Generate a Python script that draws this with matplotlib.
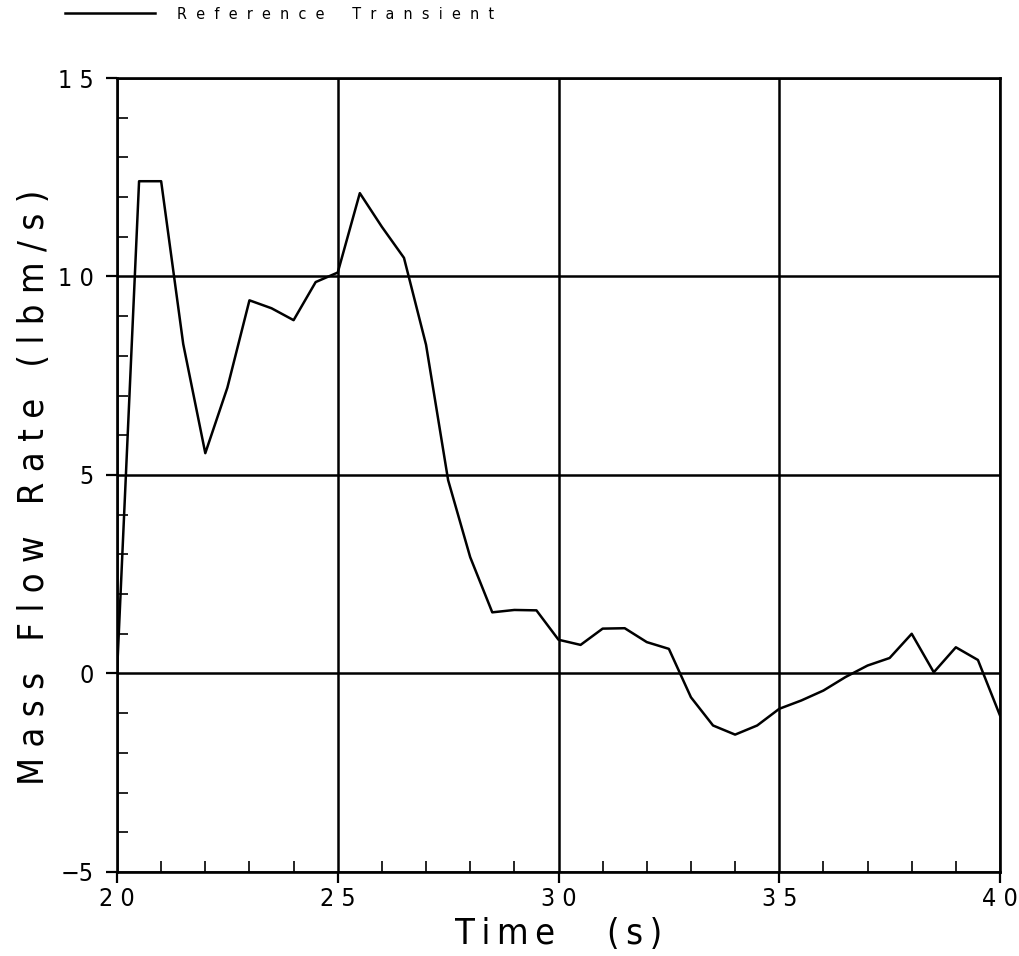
import numpy as np
import matplotlib
matplotlib.use("Agg")
import matplotlib.pyplot as plt
from matplotlib.ticker import MultipleLocator

# time (s) and mass flow rate (lbm/s)
time = np.arange(20.0, 40.01, 0.5)
flow = [0.0, 12.4, 12.4, 8.3, 5.55, 7.2, 9.4, 9.2, 8.9, 9.86,
        10.1, 12.1, 11.25, 10.47, 8.28, 4.87, 2.93, 1.54, 1.6, 1.59,
        0.85, 0.72, 1.13, 1.14, 0.79, 0.62, -0.6, -1.31, -1.54, -1.31,
        -0.89, -0.68, -0.43, -0.09, 0.2, 0.39, 1.0, 0.03, 0.66, 0.34,
        -1.06]

x_ticks = [20, 25, 30, 35, 40]
x_labels = ["2 0", "2 5", "3 0", "3 5", "4 0"]
y_ticks = [-5, 0, 5, 10, 15]
y_labels = ["\u22125", "0", "5", "1 0", "1 5"]


def spaced(s, gap=" ", word="    "):
    return word.join(gap.join(w) for w in s.split(" "))


plt.rcParams["font.family"] = ["DejaVu Sans"]
plt.rcParams["font.stretch"] = "condensed"

fig = plt.figure(figsize=(10.2, 9.56), dpi=100)
ax = fig.add_axes([0.1147, 0.0879, 0.8657, 0.8305])

ax.plot(time, flow, "-k", lw=1.8, label="Reference Transient", zorder=3)

ax.set_xlim(20, 40)
ax.set_ylim(-5, 15)
ax.set_xticks(x_ticks)
ax.set_xticklabels(x_labels)
ax.set_yticks(y_ticks)
ax.set_yticklabels(y_labels)
ax.xaxis.set_minor_locator(MultipleLocator(1))
ax.yaxis.set_minor_locator(MultipleLocator(1))
ax.tick_params(which="major", direction="out", length=8, width=1.6,
               labelsize=18)
ax.tick_params(axis="x", which="major", pad=3)
ax.tick_params(axis="y", which="major", pad=9)
ax.tick_params(which="minor", direction="in", length=8, width=1.2)
ax.grid(True, which="major", color="k", lw=1.8)
for s in ax.spines.values():
    s.set_linewidth(1.9)

ax.set_xlabel(spaced("Time (s)", gap="\u2009", word="     "), fontsize=26,
              labelpad=4)
ax.set_ylabel(spaced("Mass Flow Rate (lbm/s)", word="   "), fontsize=26)
ax.yaxis.set_label_coords(-0.075, 0.485)

leg = fig.legend(loc="upper left", bbox_to_anchor=(0.05, 1.008),
                 frameon=False, handlelength=5.6, handletextpad=1.4,
                 fontsize=11.5,
                 labels=[spaced("Reference Transient", gap="  ",
                                word="      ")])

fig.savefig("out.png", dpi=100)
